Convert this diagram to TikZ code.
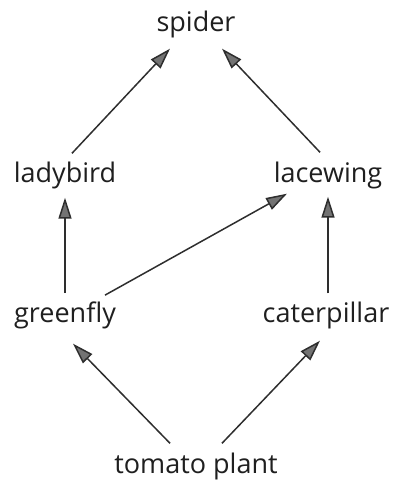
\documentclass[tikz,border=0pt]{standalone}
\usepackage{fontspec}
\setmainfont{Open Sans}
\usepackage{tikz}
\usetikzlibrary{arrows.meta, positioning, calc}

\tikzset{
  organism/.style={font=\fontsize{27}{30}\selectfont, text=black!88, inner sep=2pt, anchor=base},
  eats/.style={draw=black!82, line width=1.5pt, -{Triangle[length=21pt,width=13pt,fill=black!55]}}
}

\begin{document}
\begin{tikzpicture}[x=1pt, y=-1pt]
\useasboundingbox (0,0) rectangle (398,484);
% Food web levels
\node[organism] (spider) at (196,32) {spider};

\node[organism] (ladybird) at (65,182) {ladybird};
\node[organism] (lacewing) at (328,182) {lacewing};

\node[organism] (greenfly) at (65,322) {greenfly};
\node[organism] (caterpillar) at (326,322) {caterpillar};

\node[organism] (tomato) at (196,473) {tomato plant};

% Energy flow
\draw[eats] ([xshift=7pt,yshift=6pt]ladybird.north) -- ([xshift=-26pt,yshift=-8pt]spider.south);
\draw[eats] ([xshift=-8pt,yshift=7pt]lacewing.north) -- ([xshift=26pt,yshift=-8pt]spider.south);
\draw[eats] ([yshift=6pt]greenfly.north) -- ([yshift=-7pt]ladybird.south);
\draw[eats] ([xshift=40pt,yshift=4pt]greenfly.north) -- ([xshift=-41pt,yshift=-3pt]lacewing.south);
\draw[eats] ([xshift=2pt,yshift=6pt]caterpillar.north) -- ([yshift=-6pt]lacewing.south);
\draw[eats] ([xshift=-26pt,yshift=7pt]tomato.north) -- ([xshift=8pt,yshift=-13pt]greenfly.south);
\draw[eats] ([xshift=26pt,yshift=7pt]tomato.north) -- ([xshift=-6pt,yshift=-10pt]caterpillar.south);
\end{tikzpicture}
\end{document}
